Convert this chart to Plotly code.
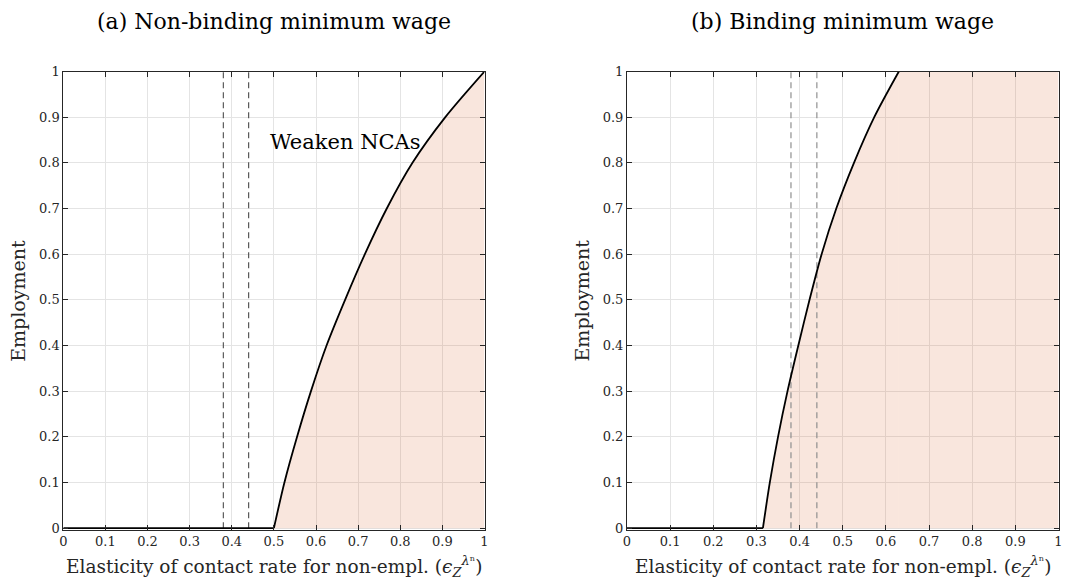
import plotly.graph_objects as go

# ---- data ----
# Panel (a): non-binding minimum wage
curve_a_x = [0.0, 0.500, 0.525, 0.555, 0.588, 0.625, 0.669, 0.716, 0.768, 0.829, 0.907, 1.0]
curve_a_y = [0.0, 0.0, 0.1, 0.2, 0.3, 0.4, 0.5, 0.6, 0.7, 0.8, 0.9, 1.0]
# Panel (b): binding minimum wage
curve_b_x = [0.0, 0.315, 0.331, 0.350, 0.372, 0.397, 0.423, 0.451, 0.485, 0.526, 0.573, 0.630]
curve_b_y = [0.0, 0.0, 0.1, 0.2, 0.3, 0.4, 0.5, 0.6, 0.7, 0.8, 0.9, 1.0]
# dashed reference lines (elasticity range)
dashed_x = [0.38, 0.44]

titles = ["(a) Non-binding minimum wage", "(b) Binding minimum wage"]
x_title = "Elasticity of contact rate for non-empl. (<i>ϵ</i><sub><i>Z</i></sub><sup><i>λ</i>ⁿ</sup>)"
y_title = "Employment"
note_text = "Weaken NCAs"
ticks = [0, 0.1, 0.2, 0.3, 0.4, 0.5, 0.6, 0.7, 0.8, 0.9, 1]
tick_text = ["0", "0.1", "0.2", "0.3", "0.4", "0.5", "0.6", "0.7", "0.8", "0.9", "1"]

W, H = 1065, 585
FONT = "DejaVu Serif"
fill_col = "rgba(217,84,26,0.15)"

fig = go.Figure()

panels = [
    dict(cx=curve_a_x, cy=curve_a_y, xa="x", ya="y", dash_col="#5a5a5a",
         dom=(63.3 / W, 484.5 / W)),
    dict(cx=curve_b_x, cy=curve_b_y, xa="x2", ya="y2", dash_col="#8f8f8f",
         dom=(627.0 / W, 1058.5 / W)),
]

ydom = ((H - 529.5) / H, (H - 71.5) / H)

for i, p in enumerate(panels):
    rise_x = p["cx"][1:]
    rise_y = p["cy"][1:]
    fig.add_trace(go.Scatter(x=rise_x, y=rise_y, xaxis=p["xa"], yaxis=p["ya"], mode="lines",
                             fill="tozeroy", fillcolor=fill_col,
                             line=dict(width=0, shape="spline", smoothing=0.8),
                             hoverinfo="skip", showlegend=False))
    if rise_x[-1] < 1.0:
        fig.add_trace(go.Scatter(x=[rise_x[-1], 1.0], y=[rise_y[-1], rise_y[-1]],
                                 xaxis=p["xa"], yaxis=p["ya"], mode="lines",
                                 fill="tozeroy", fillcolor=fill_col, line=dict(width=0),
                                 hoverinfo="skip", showlegend=False))
    for dx in dashed_x:
        fig.add_trace(go.Scatter(x=[dx, dx], y=[0, 1], xaxis=p["xa"], yaxis=p["ya"],
                                 mode="lines", line=dict(color=p["dash_col"], width=1.2, dash="6px,4px"),
                                 hoverinfo="skip", showlegend=False))
    fig.add_trace(go.Scatter(x=p["cx"][:2], y=p["cy"][:2], xaxis=p["xa"], yaxis=p["ya"], mode="lines",
                             line=dict(color="black", width=1.8), showlegend=False))
    fig.add_trace(go.Scatter(x=rise_x, y=rise_y, xaxis=p["xa"], yaxis=p["ya"], mode="lines",
                             line=dict(color="black", width=1.8, shape="spline", smoothing=0.8),
                             showlegend=False))

axis_common = dict(
    tickvals=ticks, ticktext=tick_text, showgrid=True, gridcolor="#e4e4e4",
    gridwidth=1, zeroline=False, showline=True, linecolor="#262626", linewidth=1,
    mirror="ticks", ticks="inside", ticklen=5, tickcolor="#262626",
    tickfont=dict(family=FONT, size=13, color="#262626"), fixedrange=True,
    ticklabeloverflow="allow", automargin=False,
)
x_range = [0, 1]
y_range = [-0.003, 1]

fig.update_layout(
    width=W, height=H,
    margin=dict(l=0, r=0, t=0, b=0, pad=0, autoexpand=False),
    paper_bgcolor="white", plot_bgcolor="white",
    xaxis=dict(domain=list(panels[0]["dom"]), anchor="y", range=x_range, **axis_common),
    yaxis=dict(domain=list(ydom), anchor="x", range=y_range, **axis_common),
    xaxis2=dict(domain=list(panels[1]["dom"]), anchor="y2", range=x_range, **axis_common),
    yaxis2=dict(domain=list(ydom), anchor="x2", range=y_range, **axis_common),
    showlegend=False,
)

annotations = []
for i, p in enumerate(panels):
    cxp = (p["dom"][0] + p["dom"][1]) / 2
    annotations.append(dict(text=titles[i], x=cxp, y=1 - 22 / H, xref="paper", yref="paper",
                            showarrow=False, font=dict(family=FONT, size=22, color="black"),
                            xanchor="center", yanchor="middle"))
    annotations.append(dict(text=x_title, x=cxp, y=1 - 566 / H, xref="paper", yref="paper",
                            showarrow=False, font=dict(family=FONT, size=18.5, color="#262626"),
                            xanchor="center", yanchor="middle"))
    annotations.append(dict(text=y_title, x=p["dom"][0] - 46 / W, y=(ydom[0] + ydom[1]) / 2,
                            xref="paper", yref="paper", textangle=-90, showarrow=False,
                            font=dict(family=FONT, size=19, color="#262626"),
                            xanchor="center", yanchor="middle"))

annotations.append(dict(text=note_text, x=0.669, y=0.846, xref="x", yref="y", showarrow=False,
                        font=dict(family=FONT, size=21, color="black"),
                        xanchor="center", yanchor="middle"))

fig.update_layout(annotations=annotations)

fig.write_html(
    "out.html",
    config={"displayModeBar": False, "staticPlot": True},
    post_script=(
        "document.body.style.margin='0px';"
        "document.body.style.overflow='hidden';"
    ),
)
